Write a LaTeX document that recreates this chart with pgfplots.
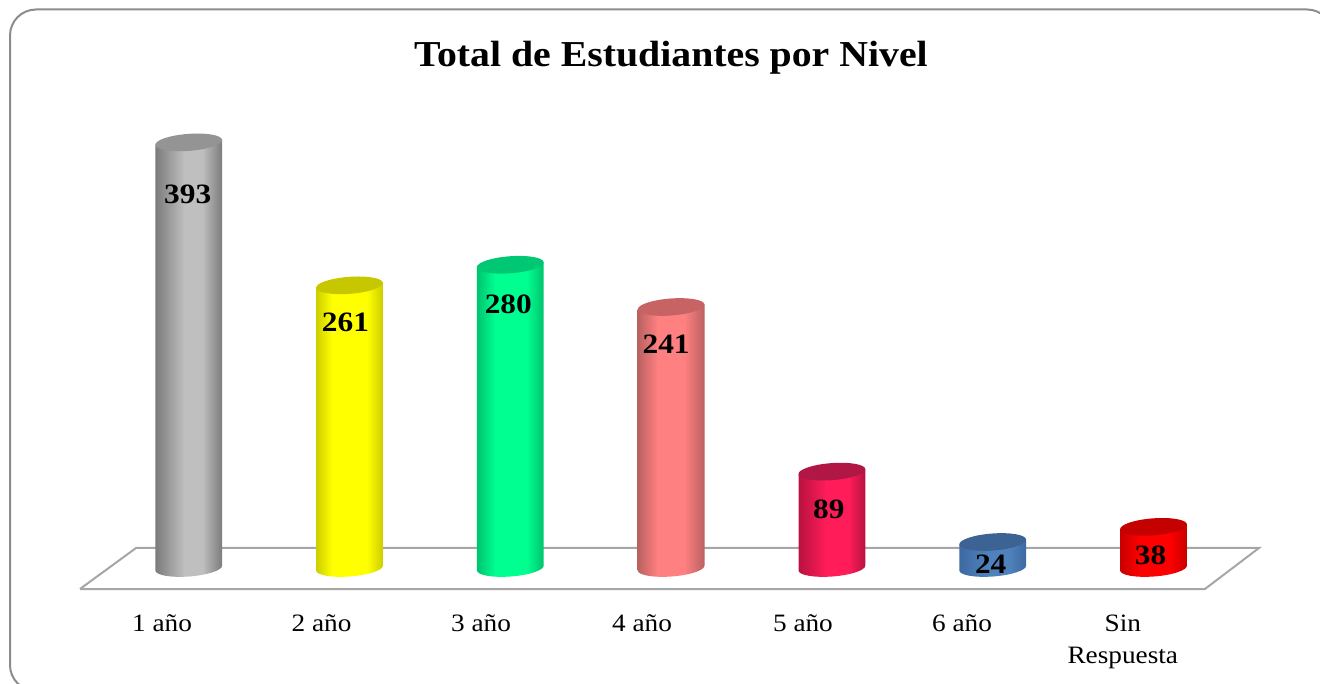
\documentclass[border=0pt]{standalone}
\usepackage{fontspec}
\setmainfont[FakeStretch=1.09]{Liberation Serif}
\newfontfamily\numfont[FakeStretch=1.12]{Liberation Serif}
\usepackage{pgfplots}
\pgfplotsset{compat=1.18}
\newcommand{\mkshade}[9]{%
 \pgfdeclarehorizontalshading{#1}{100bp}{rgb(0bp)=(#2,#3,#4);rgb(25bp)=(#2,#3,#4);rgb(#8bp)=(#5,#6,#7);rgb(#9bp)=(#5,#6,#7);rgb(75bp)=(#2,#3,#4);rgb(100bp)=(#2,#3,#4)}}
\mkshade{sgray}{.48}{.48}{.48}{.75}{.75}{.75}{47}{60}
\mkshade{syellow}{.80}{.80}{0}{1}{1}{0}{37}{63}
\mkshade{sgreen}{0}{.76}{.43}{0}{1}{.57}{39}{62}
\mkshade{spink}{.72}{.38}{.38}{1}{.5}{.5}{40}{60}
\mkshade{scrim}{.72}{.07}{.25}{1}{.11}{.35}{46}{62}
\mkshade{sblue}{.24}{.41}{.63}{.31}{.51}{.74}{46}{62}
\mkshade{sred}{.78}{0}{0}{1}{0}{0}{40}{62}
\definecolor{tgray}{rgb}{.58,.58,.58}
\definecolor{tyellow}{rgb}{.78,.78,0}
\definecolor{tgreen}{rgb}{0,.78,.45}
\definecolor{tpink}{rgb}{.78,.39,.39}
\definecolor{tcrim}{rgb}{.69,.09,.27}
\definecolor{tblue}{rgb}{.24,.39,.58}
\definecolor{tred}{rgb}{.77,0,0}
\definecolor{floorc}{HTML}{A6A6A6}
\definecolor{framec}{HTML}{8C8C8C}
\pgfdeclareplotmark{cylblank}{}
% #1 x, #2 y, #3 shading, #4 top colour, #5 label dx, #6 label dy
\newcommand{\cyl}[6]{%
\addplot[scatter, only marks, mark=cylblank, scatter src=y,
  visualization depends on={y \as \valy},
  scatter/@pre marker code/.code={%
    \begin{scope}
    \pgfmathsetmacro{\cylh}{\valy*1.083}
    \begin{pgfscope}
      \pgfpathmoveto{\pgfqpoint{33.4pt}{2.35pt}}
      \pgfpathlineto{\pgfqpoint{-33.4pt}{-2.35pt}}
      \pgfpathlineto{\pgfpoint{-33.4pt}{-\cylh pt-2.35pt}}
      \pgfpathlineto{\pgfpoint{33.4pt}{-\cylh pt+2.35pt}}
      \pgfpathclose
      \pgfpathellipse{\pgfpoint{0pt}{-\cylh pt}}{\pgfqpoint{33.4pt}{2.51pt}}{\pgfqpoint{-0.64pt}{8.48pt}}
      \pgfshadepath{#3}{0}
      \pgfusepath{discard}
    \end{pgfscope}
    \begin{pgfscope}
      \pgfsetfillcolor{#4}
      \pgfpathellipse{\pgfqpoint{0pt}{0pt}}{\pgfqpoint{33.4pt}{2.51pt}}{\pgfqpoint{-0.64pt}{8.48pt}}
      \pgfusepath{fill}
    \end{pgfscope}
    \node[font=\numfont\fontsize{28}{30}\selectfont\bfseries, text=black, inner sep=0pt, draw=none] at (#5pt,-#6pt) {#2};
  },
  scatter/@post marker code/.code={\end{scope}},
] coordinates {(#1,#2)};}
\begin{document}
\begin{tikzpicture}[x=1pt,y=1pt]
\path[use as bounding box] (0,0) rectangle (1320,683);
\begin{scope}
\clip (0,0) rectangle (1320,683);
\draw[framec, line width=2pt, rounded corners=26pt] (10,673.5) rectangle (1333,-8);
\end{scope}
\begin{axis}[
  at={(0pt,94pt)}, anchor=south west,
  x=160.8pt, y=1.083pt,
  xmin=-1.17351, xmax=7.03545, ymin=-19.39, ymax=432.1,
  clip=false,
  axis y line=none, axis x line=bottom,
  x axis line style={draw=none, -},
  xtick={-0.166,0.826,1.818,2.819,3.820,4.809,5.809},
  xticklabels={1 año,2 año,3 año,4 año,5 año,6 año,{Sin\\Respuesta}},
  major tick length=0pt,
  xticklabel style={anchor=north, align=center, yshift=-22pt, font=\fontsize{25}{32}\selectfont, text=black},
  title={\bfseries Total de Estudiantes por Nivel},
  title style={at={(axis description cs:0.5083,1.094)}, anchor=center, yshift=-10pt, font=\fontsize{36.5}{40}\selectfont, text=black},
]
\addplot[floorc, line width=2pt, line join=miter, no marks] coordinates {(-0.676,-19.39) (-0.32774,18.47) (6.656,18.47) (6.3197,-19.39) (-0.676,-19.39)};
\cyl{0}{393}{sgray}{tgray}{-1}{52}
\cyl{1}{261}{syellow}{tyellow}{-4}{37}
\cyl{2}{280}{sgreen}{tgreen}{-2}{40}
\cyl{3}{241}{spink}{tpink}{-5}{37}
\cyl{4}{89}{scrim}{tcrim}{-3}{38}
\cyl{5}{24}{sblue}{tblue}{-2}{22}
\cyl{6}{38}{sred}{tred}{-3}{28}
\end{axis}
\end{tikzpicture}
\end{document}
